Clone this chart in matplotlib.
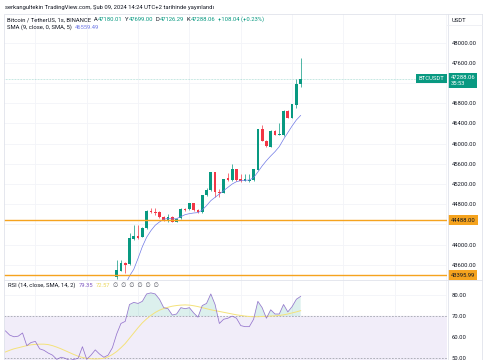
import numpy as np
import matplotlib.pyplot as plt
from matplotlib.transforms import blended_transform_factory

plt.rcParams["font.family"] = ["Roboto", "DejaVu Sans"]

# ==== DATA ====
# visible 1s candles, bar 1..44
opens = [43354, 43486, 43645, 43618, 44120, 44179, 44160, 44338, 44674, 44654,
         44641, 44542, 44483, 44542, 44456, 44522, 44714, 44701, 44819, 44687,
         44641, 44984, 45083, 45433, 45050, 45031, 45314, 45281, 45493, 45300,
         45268, 45270, 45281, 45480, 46291, 46060, 45941, 46258, 46180, 46172,
         46648, 46516, 46766, 47180.01]
highs = [43697, 43697, 43660, 44225, 44390, 44390, 44350, 44690, 44720, 44720,
         44660, 44560, 44608, 44560, 44520, 44730, 44730, 44830, 44830, 44700,
         44990, 45120, 45440, 45440, 45100, 45310, 45413, 45598, 45500, 45400,
         45400, 45400, 45500, 46300, 46370, 46070, 46270, 46270, 46403, 46660,
         46660, 46790, 47281, 47699.00]
lows = [43330, 43470, 43433, 43600, 44100, 44120, 44150, 44320, 44621, 44588,
        44530, 44470, 44456, 44440, 44440, 44510, 44660, 44690, 44670, 44620,
        44630, 44970, 45070, 44938, 44951, 45020, 45270, 45270, 45270, 45250,
        45260, 45248, 45270, 45470, 46050, 45941, 45930, 46170, 46172, 46160,
        46500, 46505, 46700, 47126.29]
closes = [43499, 43645, 43598, 44126, 44173, 44140, 44338, 44674, 44654, 44634,
          44542, 44490, 44542, 44456, 44509, 44714, 44687, 44819, 44687, 44641,
          44984, 45083, 45433, 45050, 45017, 45295, 45281, 45493, 45281, 45262,
          45301, 45285, 45493, 46291, 46060, 45955, 46258, 46179, 46190, 46648,
          46516, 46780, 47176, 47288.06]

# SMA(9) from bar 3 to bar 44
sma9 = [43200, 43381, 43513, 43730, 43961, 44146, 44278, 44384, 44450, 44503,
        44522, 44509, 44516, 44555, 44595, 44615, 44628, 44635, 44687, 44773,
        44872, 44938, 45004, 45070, 45136, 45202, 45248, 45268, 45275, 45281,
        45328, 45440, 45559, 45664, 45757, 45842, 45942, 46087, 46219, 46351,
        46470, 46559.49]

# RSI(14) and its SMA, bars -25..44
rsi = [63.0, 61.0, 60.2, 60.5, 62.0, 56.0, 57.5, 58.0, 54.5, 53.8,
       52.5, 51.5, 49.5, 50.5, 50.0, 49.0, 49.5, 50.0, 55.5, 49.5,
       51.5, 54.0, 52.0, 50.5, 51.5, 55.0, 61.5, 66.5, 67.5, 75.5,
       76.5, 76.0, 77.0, 80.5, 81.0, 80.5, 78.0, 74.0, 73.5, 70.5,
       71.0, 74.0, 73.5, 74.0, 71.5, 69.5, 75.0, 76.0, 80.5, 75.5,
       66.5, 68.5, 69.0, 70.0, 69.0, 65.5, 65.0, 65.0, 68.5, 77.0,
       74.0, 69.0, 73.0, 71.0, 71.0, 75.5, 72.0, 74.5, 78.0, 79.35]
rsi_ma = [53.0, 53.8, 54.5, 55.0, 55.5, 56.0, 56.4, 56.6, 56.7, 56.7,
          56.5, 56.0, 55.3, 54.5, 53.6, 52.7, 51.8, 51.0, 50.4, 50.0,
          49.8, 49.7, 49.8, 50.0, 50.7, 51.8, 53.2, 55.0, 57.0, 59.5,
          62.0, 64.5, 66.8, 68.7, 70.3, 71.7, 72.8, 73.6, 74.2, 74.7,
          75.0, 75.2, 75.3, 75.2, 74.9, 74.5, 74.0, 73.5, 73.0, 72.6,
          72.2, 71.8, 71.4, 71.0, 70.6, 70.3, 70.0, 69.8, 69.7, 69.7,
          69.8, 69.9, 70.0, 70.1, 70.3, 70.6, 71.0, 71.5, 72.0, 72.57]

levels = [44488.00, 43395.99]
# 44400 and 47200 sit under the price labels, so they are left out
price_ticks = [43600, 44000, 44800, 45200, 45600, 46000, 46400, 46800, 47600, 48000]
grid_prices = [43600, 44000, 44400, 44800, 45200, 45600, 46000, 46400, 46800, 47200, 47600, 48000]
rsi_ticks = [50, 60, 70, 80]

# ==== STYLE ====
UP, DOWN = "#089981", "#f23645"
ORANGE = "#f5a31e"
SMA_C = "#6f79e6"
RSI_C = "#7e57c2"
RSI_MA_C = "#f4e27a"
GRID = "#f3f4f8"
TXT = "#131722"
FS = 4.2

W, H = 485, 360
fig = plt.figure(figsize=(W / 100, H / 100), dpi=100)
fig.patch.set_facecolor("white")


def fx(x):
    return x / W


def fy(y):
    return 1 - y / H


L, R = 4, 447
ax_p = fig.add_axes([fx(L), fy(280), fx(R) - fx(L), fy(14) - fy(280)])
ax_r = fig.add_axes([fx(L), fy(360), fx(R) - fx(L), fy(280) - fy(360)])

bars = np.arange(1, len(closes) + 1)
rsi_x = np.arange(-25, 45)
xlim = (-25.33, 78.2)
vgrid = [-18, -6, 6, 18, 30, 42, 54, 66, 78]

for ax in (ax_p, ax_r):
    ax.set_xlim(*xlim)
    for s in ax.spines.values():
        s.set_visible(False)
    ax.tick_params(length=0, labelsize=FS, colors=TXT, pad=3.5)
    ax.yaxis.tick_right()
    ax.set_xticks([])
    for v in vgrid:
        ax.axvline(v, color=GRID, lw=0.6, zorder=0)

# ---- price pane ----
ax_p.set_ylim(43301, 48568)
for g in grid_prices:
    ax_p.axhline(g, color=GRID, lw=0.6, zorder=0)
ax_p.set_yticks(price_ticks)
ax_p.set_yticklabels([f"{t:.2f}" for t in price_ticks])
for lab in ax_p.get_yticklabels():
    lab.set_horizontalalignment("left")

o = np.array(opens)
c = np.array(closes)
hi = np.array(highs)
lo = np.array(lows)
col = np.where(c >= o, UP, DOWN)
ax_p.vlines(bars, lo, hi, colors=col, lw=0.5, zorder=3)
body = np.maximum(np.abs(c - o), 12)
ax_p.bar(bars, body, bottom=np.minimum(o, c), width=0.64, color=col, zorder=4)

ax_p.plot(np.arange(3, 45), sma9, color=SMA_C, lw=0.5, zorder=5)

for lv in levels:
    ax_p.axhline(lv, color=ORANGE, lw=1.0, zorder=6)
ax_p.axhline(closes[-1], color=UP, lw=0.5, ls=(0, (1, 1.2)), alpha=0.45, zorder=2)

tp = blended_transform_factory(ax_p.transAxes, ax_p.transData)
for lv in levels:
    ax_p.text(1.0 + 3.5 / (R - L), lv, f"{lv:.2f}", transform=tp, ha="left", va="center",
              fontsize=FS, color=TXT, clip_on=False, zorder=20,
              bbox=dict(boxstyle="square,pad=0.4", fc=ORANGE, ec="none"))
ax_p.text(1.0 - 2.5 / (R - L), closes[-1], "BTCUSDT", transform=tp, ha="right", va="center",
          fontsize=FS, color="white", clip_on=False, zorder=20,
          bbox=dict(boxstyle="square,pad=0.4", fc=UP, ec="none"))
ax_p.text(1.0 + 3.5 / (R - L), closes[-1] + 3.3 * 19.8, f"{closes[-1]:.2f}\n35:53",
          transform=tp, ha="left", va="top", fontsize=FS, color="white", linespacing=1.15,
          clip_on=False, zorder=20,
          bbox=dict(boxstyle="square,pad=0.4", fc=UP, ec="none"))

# ---- RSI pane ----
ax_r.set_ylim(49.2, 87.1)
for g in rsi_ticks:
    ax_r.axhline(g, color=GRID, lw=0.6, zorder=0)
ax_r.set_yticks(rsi_ticks)
ax_r.set_yticklabels([f"{t:.2f}" for t in rsi_ticks])
for lab in ax_r.get_yticklabels():
    lab.set_horizontalalignment("left")
ax_r.axhspan(30, 70, color="#f1edf9", zorder=1)
ax_r.axhline(70, color="#9598a1", lw=0.5, ls=(0, (2.5, 2)), zorder=2)
ax_r.axhline(50, color="#9598a1", lw=0.5, ls=(0, (2.5, 2)), zorder=2)
r = np.array(rsi)
ax_r.fill_between(rsi_x, r, 70, where=r > 70, interpolate=True, color="#089981",
                  alpha=0.14, lw=0, zorder=2)
ax_r.plot(rsi_x, rsi_ma, color=RSI_MA_C, lw=0.7, zorder=3)
ax_r.plot(rsi_x, rsi, color=RSI_C, lw=0.55, alpha=0.8, zorder=4)


# ---- frame / separators ----
def hline(y, x0, x1, c="#e0e3eb", lw=0.6):
    fig.add_artist(plt.Line2D([fx(x0), fx(x1)], [fy(y), fy(y)], color=c, lw=lw))


def vline(x, y0, y1, c="#e0e3eb", lw=0.6):
    fig.add_artist(plt.Line2D([fx(x), fx(x)], [fy(y0), fy(y1)], color=c, lw=lw))


hline(13.5, 5, 482)
vline(4.5, 14, 360)
vline(482, 14, 360)
vline(447.5, 14, 360)
hline(280, 4, 482)
hline(25, 447, 482, c="#eceef3")

# ---- texts ----
ren = fig.canvas.get_renderer()


def row(x0, y, parts):
    x = x0
    for s, cc, gap in parts:
        t = fig.text(fx(x), fy(y), s, color=cc, fontsize=FS, ha="left", va="center")
        x += t.get_window_extent(renderer=ren).width + gap


row(5, 7, [("serkangultekin TradingView.com, Şub 09, 2024 14:24 UTC+2 tarihinde yayınlandı", TXT, 0)])
row(7, 19.5, [("Bitcoin / TetherUS, 1s, BINANCE", TXT, 2.5),
              ("A", TXT, 0.3), ("47180.01", UP, 2.5),
              ("Y", TXT, 0.3), ("47699.00", UP, 2.5),
              ("D", TXT, 0.3), ("47126.29", UP, 2.5),
              ("K", TXT, 0.3), ("47288.06", UP, 2.5),
              ("+108.04 (+0.23%)", UP, 0)])
row(7, 27.5, [("SMA (9, close, 0, SMA, 5)", TXT, 3), ("46559.49", SMA_C, 0)])
row(8, 285.5, [("RSI (14, close, SMA, 14, 2)", TXT, 3), ("79.35", RSI_C, 3),
               ("72.57", "#e9d65a", 3), ("∅  ∅  ∅  ∅  ∅  ∅", "#50535e", 0)])
fig.text(fx(452), fy(20), "USDT", fontsize=FS, color=TXT, ha="left", va="center")

fig.savefig("out.png", dpi=100, facecolor="white")
